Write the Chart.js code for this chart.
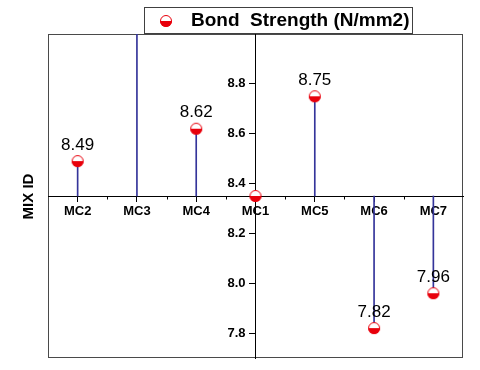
<!DOCTYPE html>
<html lang="en">
<head>
<meta charset="UTF-8">
<title>Bond Strength by Mix</title>
<script src="https://cdn.jsdelivr.net/npm/chart.js@4"></script>
<style>
    html, body { margin: 0; padding: 0; background: #fff; }
    #wrap { width: 480px; height: 370px; }
</style>
</head>
<body>
<div id="wrap"><canvas id="bondChart" width="480" height="370"></canvas></div>
<script>
// data
const mixIds = ['MC2', 'MC3', 'MC4', 'MC1', 'MC5', 'MC6', 'MC7'];
const bondStrength = [8.49, 9.2, 8.62, 8.35, 8.75, 7.82, 7.96];
const valueLabels = ['8.49', '', '8.62', '', '8.75', '7.82', '7.96'];
const yTicks = [7.8, 8.0, 8.2, 8.4, 8.6, 8.8];
const axisCross = 8.35;
const seriesName = 'Bond  Strength (N/mm2)';

const FONT = 'Arial, "Liberation Sans", sans-serif';
const RED = '#e8000b';
const STEM = '#34349a';

// half filled circle marker
function halfMarker(r) {
    const c = document.createElement('canvas');
    const s = r * 2 + 2;
    c.width = s; c.height = s;
    const g = c.getContext('2d');
    const m = s / 2;
    g.beginPath(); g.arc(m, m, r, 0, Math.PI * 2); g.fillStyle = '#fff'; g.fill();
    g.beginPath(); g.arc(m, m, r, 0, Math.PI); g.closePath(); g.fillStyle = RED; g.fill();
    g.beginPath(); g.arc(m, m, r - 0.5, 0, Math.PI * 2); g.strokeStyle = RED; g.lineWidth = 1; g.stroke();
    return c;
}
const marker = halfMarker(6);

// frame, minor ticks, y labels, value labels, axis title and the boxed legend
const extras = {
    id: 'extras',
    beforeDraw(chart) {
        const a = chart.chartArea, ctx = chart.ctx;
        ctx.save();
        ctx.strokeStyle = '#4a4a4a';
        ctx.lineWidth = 1;
        ctx.strokeRect(a.left + 0.5, a.top + 0.5, a.right - a.left - 1, a.bottom - a.top - 1);
        ctx.restore();
    },
    afterDraw(chart) {
        const ctx = chart.ctx, x = chart.scales.x, y = chart.scales.y;
        const yAxis = Math.round(y.getPixelForValue(axisCross)) + 0.5;
        const xAxis = x.getPixelForValue(3);
        ctx.save();
        // minor ticks between categories
        ctx.strokeStyle = '#000';
        ctx.lineWidth = 1;
        for (let i = 1; i < mixIds.length; i++) {
            const px = Math.round(x.getPixelForValue(i - 0.5)) + 0.5;
            ctx.beginPath(); ctx.moveTo(px, yAxis); ctx.lineTo(px, yAxis + 3); ctx.stroke();
        }
        // y tick labels, left of the crossing axis
        ctx.fillStyle = '#000';
        ctx.font = 'bold 13px ' + FONT;
        ctx.textAlign = 'right';
        ctx.textBaseline = 'middle';
        yTicks.forEach(v => ctx.fillText(v.toFixed(1), xAxis - 10, y.getPixelForValue(v)));
        // value labels
        const meta = chart.getDatasetMeta(1);
        ctx.font = '17px ' + FONT;
        ctx.textAlign = 'center';
        meta.data.forEach((pt, i) => {
            if (!valueLabels[i]) return;
            ctx.fillText(valueLabels[i], pt.x, pt.y - 16);
        });
        // axis title on the left
        ctx.save();
        ctx.translate(29, yAxis);
        ctx.rotate(-Math.PI / 2);
        ctx.font = 'bold 15px ' + FONT;
        ctx.fillText('MIX ID', 0, 0);
        ctx.restore();
        // legend box
        ctx.fillStyle = '#fff';
        ctx.fillRect(144, 7, 268, 27);
        ctx.strokeStyle = '#404040';
        ctx.strokeRect(144.5, 7.5, 268, 26);
        ctx.drawImage(marker, 166 - marker.width / 2, 21 - marker.height / 2);
        ctx.fillStyle = '#000';
        ctx.font = 'bold 19px ' + FONT;
        ctx.textAlign = 'left';
        ctx.fillText(seriesName, 191, 21);
        ctx.restore();
    }
};

new Chart(document.getElementById('bondChart'), {
    data: {
        labels: mixIds,
        datasets: [{
            type: 'bar',
            label: 'stems',
            data: bondStrength.map(v => [axisCross, v]),
            backgroundColor: STEM,
            barThickness: 1,
            order: 1
        }, {
            type: 'line',
            label: seriesName,
            data: bondStrength,
            showLine: false,
            pointStyle: marker,
            pointRadius: 6,
            order: 0
        }]
    },
    options: {
        responsive: false,
        animation: false,
        layout: { padding: { left: 48, top: 34, right: 17, bottom: 12 } },
        plugins: {
            legend: { display: false },
            tooltip: { enabled: false }
        },
        scales: {
            x: {
                type: 'category',
                offset: true,
                position: { y: axisCross },
                grid: { drawOnChartArea: false, drawTicks: true, tickLength: 5, color: '#000', offset: false },
                border: { color: '#000', width: 1 },
                ticks: { color: '#000', padding: 3, maxRotation: 0, font: { family: FONT, size: 13, weight: 'bold' } }
            },
            y: {
                min: 7.7,
                max: 9.0,
                position: { x: 3 },
                z: 1,
                afterBuildTicks: axis => { axis.ticks = yTicks.map(v => ({ value: v })); },
                grid: { drawOnChartArea: false, drawTicks: true, tickLength: 6, color: '#000' },
                border: { color: '#000', width: 1 },
                ticks: { color: 'transparent', font: { family: FONT, size: 13, weight: 'bold' } }
            }
        }
    },
    plugins: [extras]
});
</script>
</body>
</html>
